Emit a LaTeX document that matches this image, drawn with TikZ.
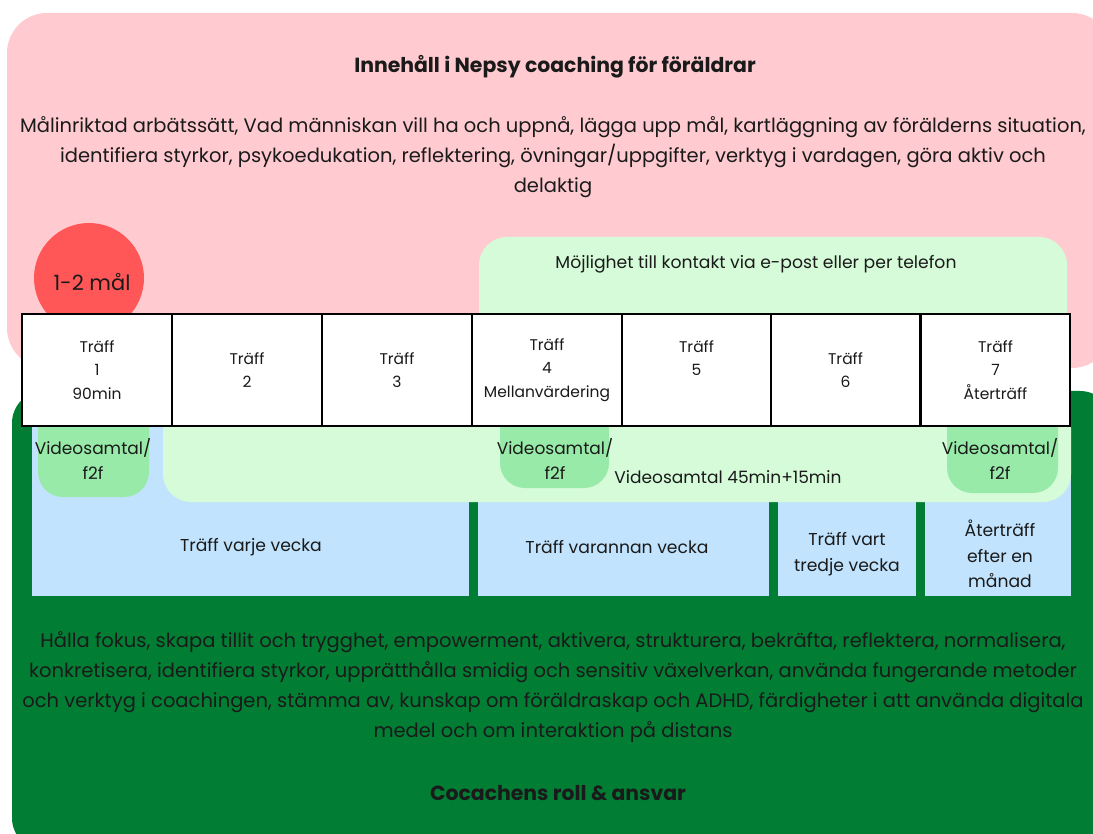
\documentclass[tikz,border=0pt]{standalone}
\usepackage{fontspec}
\setmainfont{Poppins}
\definecolor{pinkbg}{HTML}{FFCBD0}
\definecolor{redc}{HTML}{FF5757}
\definecolor{darkgr}{HTML}{017E34}
\definecolor{lightgr}{HTML}{D5FBD8}
\definecolor{midgr}{HTML}{98EAA8}
\definecolor{bluebg}{HTML}{C1E3FD}
\definecolor{txt}{HTML}{1A1A1A}
\tikzset{
  cell/.style={draw=black, line width=2pt, fill=white, minimum width=149.9pt, minimum height=112pt, inner sep=0pt, align=center, font=\fontsize{15.5}{23.5}\selectfont, text=txt},
  body/.style={align=center, inner sep=0pt, text=txt, font=\fontsize{19.5}{30}\selectfont},
  bodyb/.style={align=center, inner sep=0pt, text=txt, font=\fontsize{20.4}{30}\selectfont\bfseries},
  small/.style={align=center, inner sep=0pt, text=txt, font=\fontsize{17.2}{25.5}\selectfont},
  vid/.style={align=center, inner sep=0pt, text=txt, font=\fontsize{17}{25}\selectfont},
}
\begin{document}
\begin{tikzpicture}[x=1pt,y=-1pt]
\useasboundingbox (0,0) rectangle (1093,834);
\clip (0,0) rectangle (1093,834);
% backgrounds
\fill[pinkbg, rounded corners=40pt] (7,13) rectangle (1112,368);
\fill[darkgr, rounded corners=32pt] (12,391) rectangle (1112,850);
\fill[bluebg] (32,420) rectangle (469,596);
\fill[bluebg] (478,420) rectangle (769,596);
\fill[bluebg] (778,420) rectangle (916,596);
\fill[bluebg] (925,420) rectangle (1071,596);
\fill[lightgr, rounded corners=28pt] (479,237) rectangle (1067,345);
\fill[lightgr, rounded corners=28pt] (163,400) rectangle (1071,502);
\fill[midgr, rounded corners=25pt] (38,400) rectangle (149,497);
\fill[midgr, rounded corners=25pt] (500,400) rectangle (609,488);
\fill[midgr, rounded corners=25pt] (947,400) rectangle (1058,493);
\node[circle, fill=redc, minimum size=110pt, inner sep=0pt] (goal) at (89,278) {};
\node[text=txt, font=\fontsize{21}{25}\selectfont, inner sep=0pt] (goaltxt) at (92,282) {1-2 mål};
% table
\node[cell] (t1) at (97,370) {Träff\\1\\90min};
\node[cell] (t2) at (247,370) {Träff\\2};
\node[cell] (t3) at (397,370) {Träff\\3};
\node[cell] (t4) at (547,370) {Träff\\4\\Mellanvärdering};
\node[cell] (t5) at (696.5,370) {Träff\\5\\\phantom{X}};
\node[cell] (t6) at (845.5,370) {Träff\\6};
\node[cell] (t7) at (995.5,370) {Träff\\7\\Återträff};
% texts
\node[bodyb] (title) at (555,67) {Innehåll i Nepsy coaching för föräldrar};
\node[body] (content) at (553,157) {Målinriktad arbätssätt, Vad människan vill ha och uppnå, lägga upp mål, kartläggning av förälderns situation,\\identifiera styrkor, psykoedukation, reflektering, övningar/uppgifter, verktyg i vardagen, göra aktiv och\\delaktig};
\node[small] (contact) at (756,264) {Möjlighet till kontakt via e-post eller per telefon};
\node[vid] (v1) at (93,459) {Videosamtal/\\f2f};
\node[vid] (v2) at (555,459) {Videosamtal/\\f2f};
\node[vid] (v3) at (1000,459) {Videosamtal/\\f2f};
\node[vid] (v45) at (728,477) {Videosamtal 45min+15min};
\node[small] (b1) at (251,547) {Träff varje vecka};
\node[small] (b2) at (617,547) {Träff varannan vecka};
\node[small] (b3) at (847,554) {Träff vart\\tredje vecka};
\node[small] (b4) at (1000,554) {Återträff\\efter en\\månad};
\node[body] (role) at (553,687) {Hålla fokus, skapa tillit och trygghet, empowerment, aktivera, strukturera, bekräfta, reflektera, normalisera,\\konkretisera, identifiera styrkor, upprätthålla smidig och sensitiv växelverkan, använda fungerande metoder\\och verktyg i coachingen, stämma av, kunskap om föräldraskap och ADHD, färdigheter i att använda digitala\\medel och om interaktion på distans};
\node[bodyb] (roletitle) at (558,793) {Cocachens roll \& ansvar};
\end{tikzpicture}
\end{document}
